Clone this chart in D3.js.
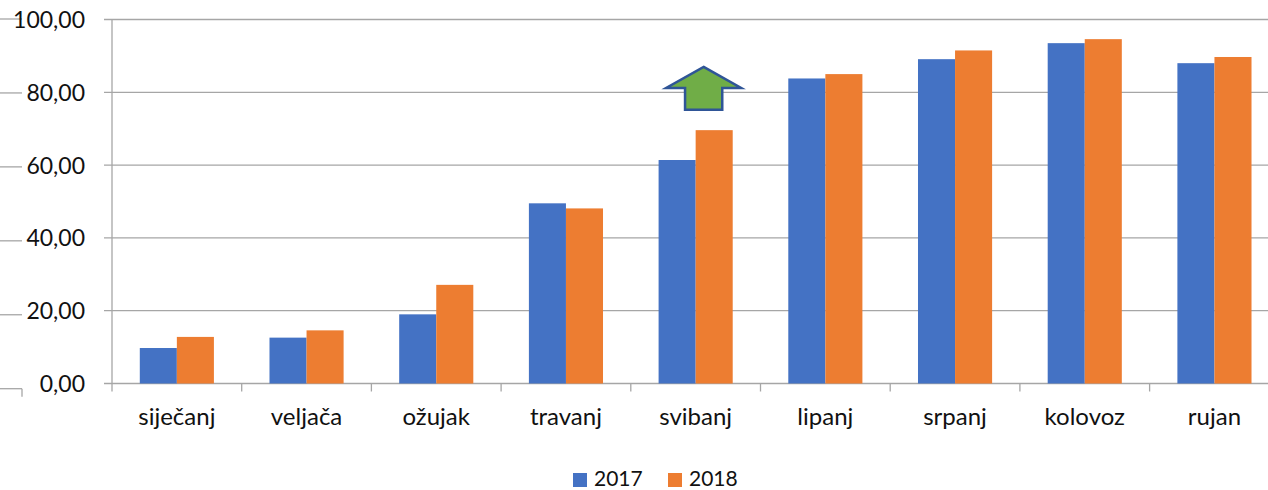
<!DOCTYPE html>
<html>
<head>
<meta charset="utf-8">
<style>
  html, body { margin: 0; padding: 0; background: #fff; }
  svg { display: block; }
  text { font-family: Lato, "Open Sans", sans-serif; fill: #111; }
  .grid line { stroke: #a6a6a6; stroke-width: 1.3; }
</style>
<script src="https://cdn.jsdelivr.net/npm/d3@7/dist/d3.min.js"></script>
</head>
<body>
<div id="vis"></div>
<script>
  var months = ['siječanj', 'veljača', 'ožujak', 'travanj', 'svibanj', 'lipanj', 'srpanj', 'kolovoz', 'rujan'];
  var years = ['2017', '2018'];
  var values2017 = [9.75, 12.6, 19.0, 49.5, 61.4, 83.8, 89.1, 93.5, 88.0];
  var values2018 = [12.8, 14.6, 27.1, 48.1, 69.6, 85.0, 91.5, 94.6, 89.7];
  var yTicks = [0, 20, 40, 60, 80, 100];
  var colors = ['#4472c4', '#ed7d31'];

  var width = 1268, height = 490;
  var svg = d3.select('#vis').append('svg')
    .attr('width', width)
    .attr('height', height);

  var fmt = d3.formatLocale({decimal: ',', thousands: '.', grouping: [3], currency: ['', '€']}).format('.2f');

  var x = d3.scaleBand().domain(months).range([112, 112 + 9 * 129.7]);
  var xi = d3.scaleBand().domain(years).range([0, x.bandwidth()]).paddingOuter(0.75);
  var y = d3.scaleLinear().domain([0, 100]).range([383.5, 19.5]);

  // stray lines at the left edge (from another chart underneath)
  var ghost = d3.scaleLinear().domain([0, 100]).range([388.7, 19]);
  svg.append('g').attr('class', 'grid')
    .selectAll('line').data(yTicks).join('line')
    .attr('x1', 0).attr('x2', 22)
    .attr('y1', d => ghost(d)).attr('y2', d => ghost(d));
  svg.append('line')
    .attr('x1', 22).attr('x2', 22)
    .attr('y1', ghost(0)).attr('y2', ghost(0) + 8)
    .attr('stroke', '#a6a6a6').attr('stroke-width', 1.3);

  // gridlines
  svg.append('g').attr('class', 'grid')
    .selectAll('line').data(yTicks).join('line')
    .attr('x1', 104).attr('x2', width)
    .attr('y1', d => y(d)).attr('y2', d => y(d));

  // y axis line
  svg.append('g').attr('class', 'grid').append('line')
    .attr('x1', 112).attr('x2', 112)
    .attr('y1', y(0)).attr('y2', y(100));

  // category ticks
  svg.append('g').attr('class', 'grid')
    .selectAll('line').data(months.concat(['end'])).join('line')
    .attr('x1', (d, i) => 112 + i * x.step())
    .attr('x2', (d, i) => 112 + i * x.step())
    .attr('y1', y(0)).attr('y2', y(0) + 8);

  // y labels
  svg.append('g').selectAll('text').data(yTicks).join('text')
    .attr('x', 85).attr('y', d => y(d) + 8.5)
    .attr('text-anchor', 'end')
    .style('font-size', '23px')
    .text(d => fmt(d));

  // bars
  var rows = months.map((m, i) => ({month: m, vals: [values2017[i], values2018[i]]}));
  var groups = svg.append('g').selectAll('g').data(rows).join('g')
    .attr('transform', d => 'translate(' + x(d.month) + ',0)');
  groups.selectAll('rect').data(d => d.vals.map((v, j) => ({year: years[j], v: v, c: colors[j]})))
    .join('rect')
    .attr('x', d => xi(d.year))
    .attr('width', xi.bandwidth())
    .attr('y', d => y(d.v))
    .attr('height', d => y(0) - y(d.v))
    .attr('fill', d => d.c);

  // category labels
  svg.append('g').selectAll('text').data(months).join('text')
    .attr('x', d => x(d) + x.bandwidth() / 2)
    .attr('y', 425)
    .attr('text-anchor', 'middle')
    .style('font-size', '24px')
    .text(d => d);

  // arrow annotation over svibanj
  var ax = x('svibanj') + x.bandwidth() / 2 + 8;
  var arrow = [
    [ax, y(87)], [ax + 37.5, y(81.2)], [ax + 18.6, y(81.2)], [ax + 18.6, y(75.2)],
    [ax - 18.6, y(75.2)], [ax - 18.6, y(81.2)], [ax - 37.5, y(81.2)]
  ];
  svg.append('polygon')
    .attr('points', arrow.map(p => p.join(',')).join(' '))
    .attr('fill', '#70ad47')
    .attr('stroke', '#2f5597')
    .attr('stroke-width', 2.5)
    .attr('stroke-linejoin', 'miter');

  // legend
  var legend = svg.append('g');
  var lx = [573, 668];
  years.forEach((yr, i) => {
    legend.append('rect')
      .attr('x', lx[i]).attr('y', 473).attr('width', 14).attr('height', 14)
      .attr('fill', colors[i]);
    legend.append('text')
      .attr('x', lx[i] + 21).attr('y', 486)
      .style('font-size', '21px')
      .text(yr);
  });
</script>
</body>
</html>
